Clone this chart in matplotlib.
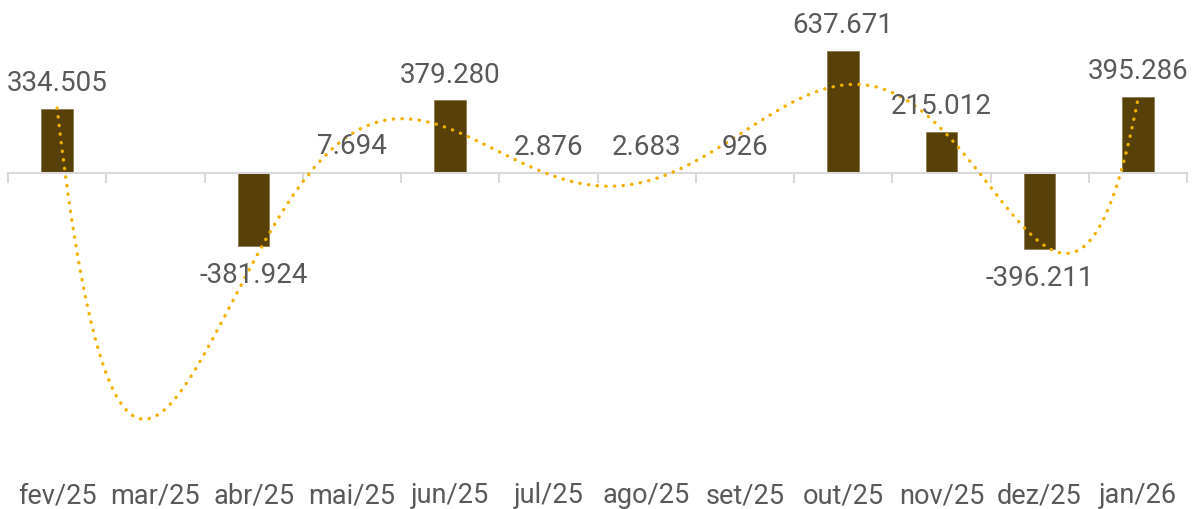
import numpy as np
import matplotlib.pyplot as plt

plt.rcParams['font.family'] = ['Roboto', 'DejaVu Sans']

months = ['fev/25', 'mar/25', 'abr/25', 'mai/25', 'jun/25', 'jul/25',
          'ago/25', 'set/25', 'out/25', 'nov/25', 'dez/25', 'jan/26']
values = [334505, np.nan, -381924, 7694, 379280, 2876,
          2683, 926, 637671, 215012, -396211, 395286]
labels = ['334.505', '', '-381.924', '7.694', '379.280', '2.876',
          '2.683', '926', '637.671', '215.012', '-396.211', '395.286']

bar_color = '#574109'
trend_color = '#F0B000'
text_color = '#595959'
axis_color = '#d9d9d9'

fig = plt.figure(figsize=(11.97, 5.10), dpi=100)
ax = fig.add_axes([8 / 1197, (510 - 478) / 510, 1179 / 1197, 438 / 510])

x = np.arange(len(months))
vals = np.array(values, dtype=float)
ax.bar(x, vals, width=0.32, color=bar_color, edgecolor='#8c7b55', linewidth=0.6, zorder=2)

# polynomial trendline (order 6), blank month skipped
ok = ~np.isnan(vals)
coef = np.polyfit(x[ok], vals[ok], 6)
xs = np.linspace(0, len(months) - 1, 400)
ax.plot(xs, np.polyval(coef, xs), color=trend_color, linewidth=2.4,
        linestyle=(0, (0.1, 2.5)), dash_capstyle='round', zorder=3)

for xi, v, lab in zip(x, vals, labels):
    if not lab:
        continue
    off = 19 if v >= 0 else -20.5
    ax.annotate(lab, (xi, v), xytext=(0, off),
                textcoords='offset points', ha='center', va='center',
                fontsize=20, color=text_color, zorder=4)

px = 637671 / 122
ax.set_ylim(-(478 - 174) * px, (174 - 40) * px)
ax.set_xlim(-0.5, len(months) - 0.5)

for s in ['top', 'right', 'left']:
    ax.spines[s].set_visible(False)
ax.spines['bottom'].set_position(('data', 0))
ax.spines['bottom'].set_color(axis_color)
ax.spines['bottom'].set_linewidth(1.5)
ax.set_yticks([])

ax.set_xticks(np.arange(-0.5, len(months), 1.0))
ax.set_xticklabels([])
ax.tick_params(axis='x', which='major', length=7, width=1.5, color=axis_color)
ax.set_xticks(x, minor=True)
ax.set_xticklabels(months, minor=True)
ax.tick_params(axis='x', which='minor', length=0, pad=222, labelsize=19.5,
               labelcolor=text_color)

fig.savefig('out.png', dpi=100)
